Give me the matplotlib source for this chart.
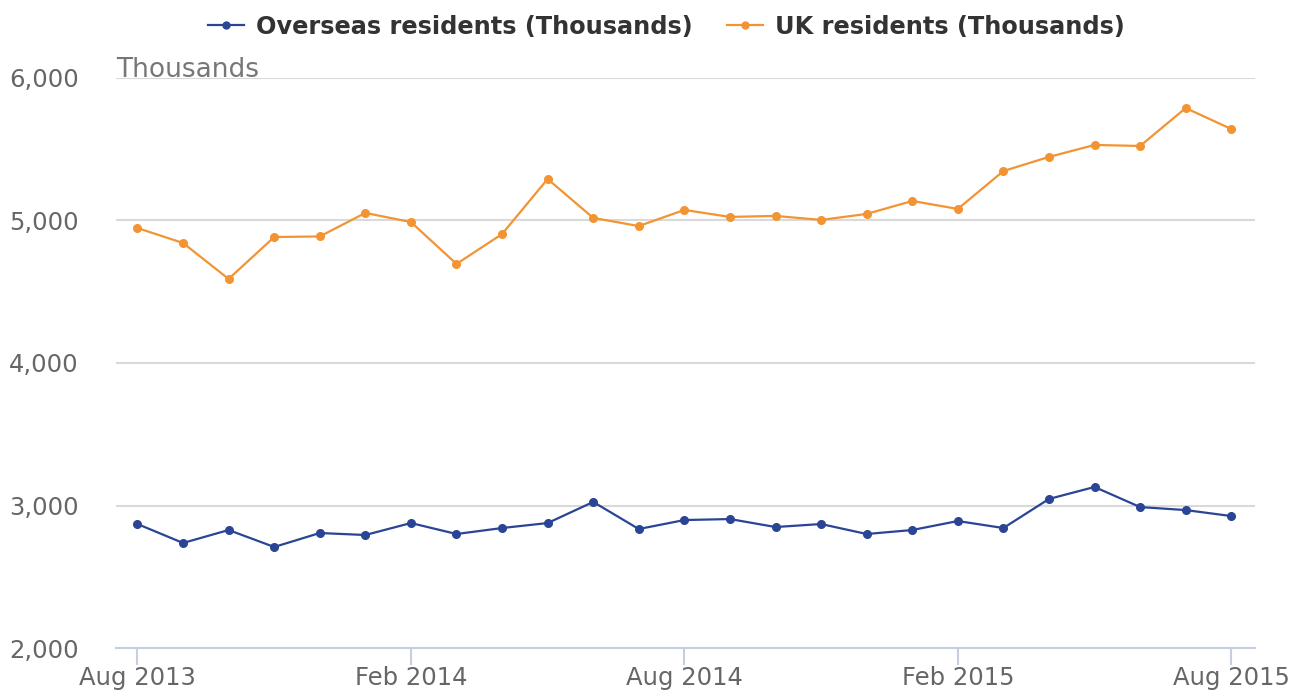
import matplotlib.pyplot as plt
from matplotlib.ticker import FuncFormatter

months = ["Aug 2013", "Sep 2013", "Oct 2013", "Nov 2013", "Dec 2013", "Jan 2014",
          "Feb 2014", "Mar 2014", "Apr 2014", "May 2014", "Jun 2014", "Jul 2014",
          "Aug 2014", "Sep 2014", "Oct 2014", "Nov 2014", "Dec 2014", "Jan 2015",
          "Feb 2015", "Mar 2015", "Apr 2015", "May 2015", "Jun 2015", "Jul 2015",
          "Aug 2015"]
overseas = [2870, 2737, 2828, 2709, 2807, 2793, 2877, 2800, 2842, 2877, 3025, 2835,
            2898, 2905, 2849, 2870, 2800, 2828, 2891, 2842, 3046, 3130, 2989, 2968,
            2926]
uk = [4947, 4842, 4590, 4884, 4888, 5053, 4989, 4695, 4905, 5291, 5018, 4961,
      5074, 5025, 5032, 5004, 5046, 5137, 5081, 5347, 5446, 5530, 5523, 5789,
      5642]
tick_labels = ["Aug 2013", "Feb 2014", "Aug 2014", "Feb 2015", "Aug 2015"]

NAVY = "#2b4596"
ORANGE = "#f39433"
GRID = "#d9d9d9"
AXIS = "#c4d0e0"
TXT = "#666666"

fig = plt.figure(figsize=(13.04, 6.95), dpi=100)
ax = fig.add_axes([0.089, 0.0676, 0.8734, 0.8202])

x = list(range(len(months)))
ax.plot(x, overseas, color=NAVY, lw=1.6, marker="o", ms=5.5,
        label="Overseas residents (Thousands)", zorder=3)
ax.plot(x, uk, color=ORANGE, lw=1.6, marker="o", ms=5.5,
        label="UK residents (Thousands)", zorder=3)

ax.set_xlim(-0.47, 24.52)
ax.set_ylim(2000, 6000)
ax.set_yticks([2000, 3000, 4000, 5000, 6000])
ax.yaxis.set_major_formatter(FuncFormatter(lambda v, p: f"{int(v):,}"))
ax.grid(axis="y", color=GRID, lw=1.5)
ax.set_axisbelow(True)

ax.set_xticks([months.index(t) for t in tick_labels])
ax.set_xticklabels(tick_labels)

for s in ["top", "right", "left"]:
    ax.spines[s].set_visible(False)
ax.spines["bottom"].set_color(AXIS)
ax.spines["bottom"].set_linewidth(1.5)
ax.tick_params(axis="x", colors=AXIS, length=12, width=1.5, labelcolor=TXT,
               labelsize=17.5, pad=1)
ax.tick_params(axis="y", length=0, labelcolor=TXT, labelsize=17.5, pad=27)

ax.text(0, 0.992, "Thousands", transform=ax.transAxes, ha="left", va="bottom",
        fontsize=19, color="#777777")

leg = fig.legend(loc="upper center", bbox_to_anchor=(0.511, 1.01), ncol=2,
                 frameon=False, handlelength=1.5,
                 columnspacing=1.4, handletextpad=0.5,
                 prop={"weight": "bold", "size": 17.3})
for t in leg.get_texts():
    t.set_color("#333333")
for h in leg.legend_handles:
    h.set_markersize(5)

fig.savefig("out.png", dpi=100, facecolor="white")
